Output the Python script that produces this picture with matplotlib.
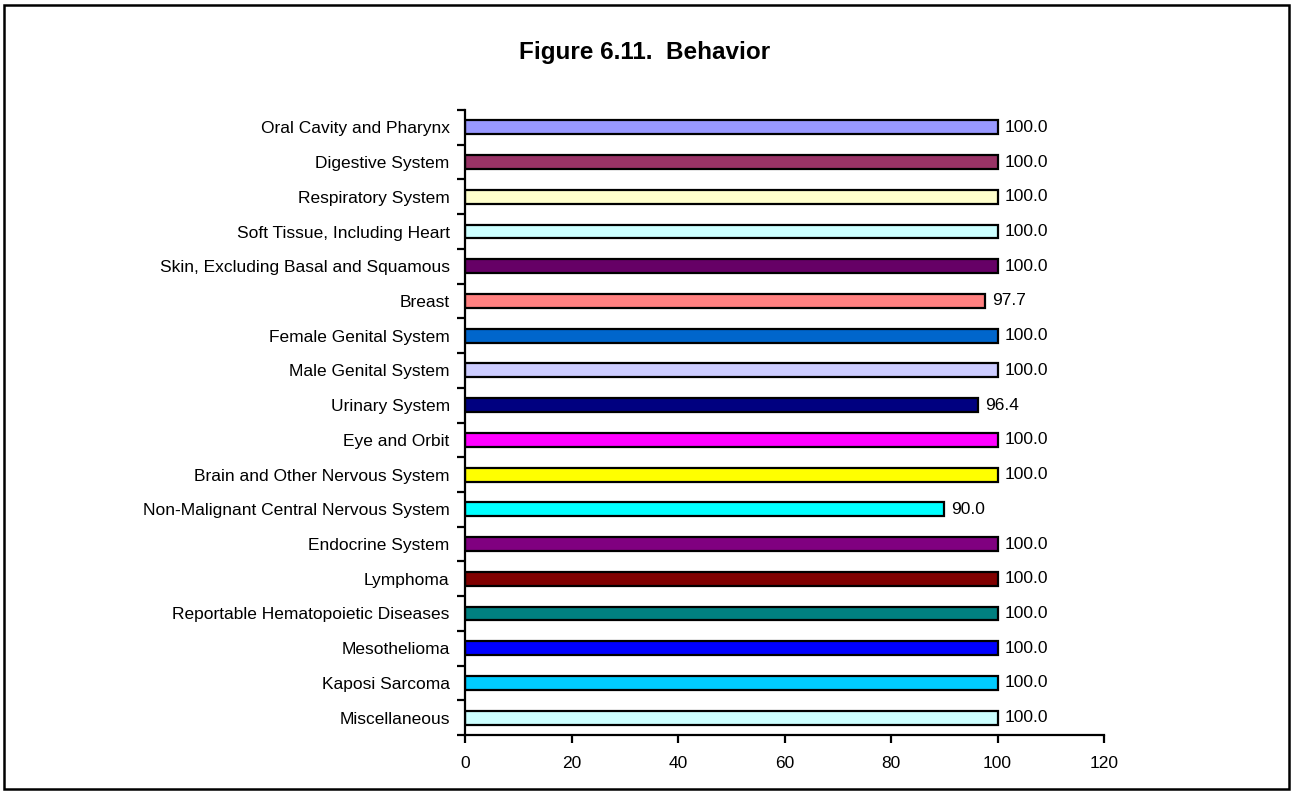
import matplotlib
matplotlib.use("Agg")
import matplotlib.pyplot as plt
from matplotlib.patches import Rectangle
import numpy as np

plt.rcParams['font.family'] = ['Liberation Sans', 'DejaVu Sans']

categories = [
    "Oral Cavity and Pharynx",
    "Digestive System",
    "Respiratory System",
    "Soft Tissue, Including Heart",
    "Skin, Excluding Basal and Squamous",
    "Breast",
    "Female Genital System",
    "Male Genital System",
    "Urinary System",
    "Eye and Orbit",
    "Brain and Other Nervous System",
    "Non-Malignant Central Nervous System",
    "Endocrine System",
    "Lymphoma",
    "Reportable Hematopoietic Diseases",
    "Mesothelioma",
    "Kaposi Sarcoma",
    "Miscellaneous",
]
values = [100.0, 100.0, 100.0, 100.0, 100.0, 97.7, 100.0, 100.0, 96.4,
          100.0, 100.0, 90.0, 100.0, 100.0, 100.0, 100.0, 100.0, 100.0]
colors = ["#9999FF", "#993366", "#FFFFCC", "#CCFFFF", "#660066", "#FF8080",
          "#0066CC", "#CCCCFF", "#000080", "#FF00FF", "#FFFF00", "#00FFFF",
          "#800080", "#800000", "#008080", "#0000FF", "#00CCFF", "#CCFFFF"]
x_ticks = [0, 20, 40, 60, 80, 100, 120]
title = "Figure 6.11.  Behavior"

FS = 12.5

fig = plt.figure(figsize=(12.94, 7.93), dpi=100)
ax = fig.add_axes([465 / 1294, 1 - 735 / 793, (1104 - 465) / 1294, (735 - 110) / 793])

n = len(categories)
ypos = np.arange(n)[::-1]
ax.barh(ypos, values, height=0.4, color=colors, edgecolor="black", linewidth=1.6)

for y, v in zip(ypos, values):
    ax.text(v + 1.3, y, f"{v:.1f}", va="center", ha="left", fontsize=FS)

ax.set_xlim(0, 120)
ax.set_ylim(-0.5, n - 0.5)
ax.set_xticks(x_ticks)
ax.set_xticklabels([str(t) for t in x_ticks], fontsize=FS)
ax.set_yticks(ypos)
ax.set_yticklabels(categories, fontsize=FS)
ax.tick_params(axis="y", which="major", length=0, pad=11)
ax.set_yticks(np.arange(n + 1) - 0.5, minor=True)
ax.tick_params(axis="y", which="minor", length=6, width=1.6, direction="out")
ax.tick_params(axis="x", length=6, width=1.6, direction="out", pad=9)

for side in ("top", "right"):
    ax.spines[side].set_visible(False)
for side in ("left", "bottom"):
    ax.spines[side].set_linewidth(1.6)

fig.text(645 / 1294, 1 - 53 / 793, title, ha="center", va="center",
         fontsize=17.5, fontweight="bold")

fig.patches.append(Rectangle((4 / 1294, 4 / 793), 1285 / 1294, 784 / 793,
                             transform=fig.transFigure, fill=False,
                             edgecolor="black", linewidth=1.8))

fig.savefig("out.png", dpi=100)
